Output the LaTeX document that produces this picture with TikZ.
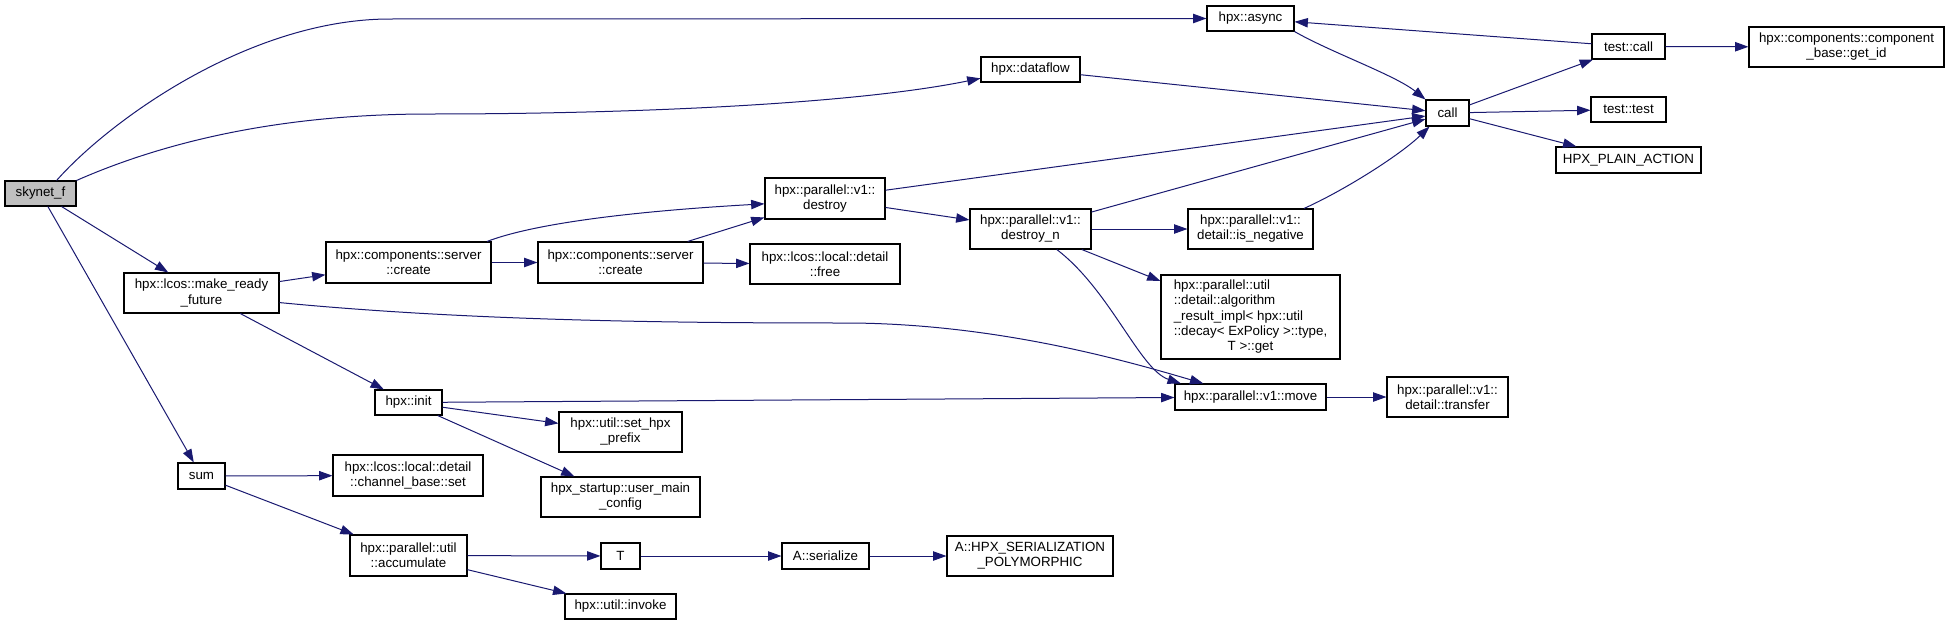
\documentclass[tikz,border=0pt]{standalone}
\usepackage{fontspec}
\setmainfont{Liberation Sans}
\usepackage{xcolor}
\usepackage{tikz}
\usetikzlibrary{arrows.meta}
\definecolor{linec}{HTML}{191970}
\definecolor{rootc}{HTML}{BFBFBF}
\tikzset{
  ln/.style={-{Triangle[length=10pt,width=7pt]},line width=0.75pt,linec},
  fn/.style 2 args={draw=black,line width=0.8pt,fill=white,align=center,inner sep=0pt,
    minimum width=#1*0.75pt,minimum height=#2*0.75pt,font=\fontsize{10}{11.3}\selectfont}
}

\begin{document}
\begin{tikzpicture}[x=0.75pt,y=-0.75pt]
\useasboundingbox (0,0) rectangle (1949,625);
% column 1-2
\node[fn={71}{25},fill=rootc] (skynet) at (40.5,193.5) {skynet\_f};
\node[fn={155}{40}] (mrf) at (201.5,293) {hpx::lcos::make\_ready\\\_future};
\node[fn={47}{26}] (sum) at (201.5,476) {sum};
% column 3
\node[fn={165}{41}] (createa) at (408.5,262.5) {hpx::components::server\\::create};
\node[fn={67}{25}] (init) at (408.5,402.5) {hpx::init};
\node[fn={150}{41}] (chanset) at (408,475.5) {hpx::lcos::local::detail\\::channel\_base::set};
\node[fn={117}{41}] (accum) at (408.5,555.5) {hpx::parallel::util\\::accumulate};
% column 4
\node[fn={165}{41}] (createb) at (620.5,262.5) {hpx::components::server\\::create};
\node[fn={123}{40}] (prefix) at (620.5,432) {hpx::util::set\_hpx\\\_prefix};
\node[fn={159}{40}] (usermain) at (620.5,497) {hpx\_startup::user\_main\\\_config};
\node[fn={39}{26}] (tt) at (620.5,556) {T};
\node[fn={111}{25}] (invoke) at (620.5,606.5) {hpx::util::invoke};
% column 5
\node[fn={120}{41}] (destroy) at (825,198.5) {hpx::parallel::v1::\\destroy};
\node[fn={150}{40}] (free) at (825,264) {hpx::lcos::local::detail\\::free};
\node[fn={87}{26}] (serialize) at (825.5,556) {A::serialize};
% column 6
\node[fn={99}{25}] (dataflow) at (1030.5,69.5) {hpx::dataflow};
\node[fn={121}{40}] (destroyn) at (1030.5,229) {hpx::parallel::v1::\\destroy\_n};
\node[fn={166}{40}] (poly) at (1030,556) {A::HPX\_SERIALIZATION\\\_POLYMORPHIC};
% column 7
\node[fn={87}{25}] (async) at (1250.5,18.5) {hpx::async};
\node[fn={125}{40}] (isneg) at (1250.5,229) {hpx::parallel::v1::\\detail::is\_negative};
\node[fn={179}{84}] (algo) at (1250.5,317) {\begin{tabular}{@{}l@{}}hpx::parallel::util\\::detail::algorithm\\\_result\_impl< hpx::util\\::decay< ExPolicy >::type,\\\multicolumn{1}{@{}c@{}}{T >::get}\end{tabular}};
\node[fn={151}{26}] (move) at (1250.5,397) {hpx::parallel::v1::move};
% column 8-10
\node[fn={43}{26}] (call) at (1447.5,113) {call};
\node[fn={121}{40}] (transfer) at (1447.5,397) {hpx::parallel::v1::\\detail::transfer};
\node[fn={73}{25}] (testcall) at (1628.5,46.5) {test::call};
\node[fn={75}{25}] (testtest) at (1628.5,109.5) {test::test};
\node[fn={145}{26}] (plain) at (1628.5,160) {HPX\_PLAIN\_ACTION};
\node[fn={195}{40}] (getid) at (1846.5,47) {hpx::components::component\\\_base::get\_id};

% calls
\draw[ln] (skynet.39) .. controls (110,120) and (250,19) .. (390,19) -- (async.west);
\draw[ln] (skynet.north east) .. controls (180,135) and (300,114) .. (430,114)
  .. controls (620,114) and (850,105) .. (dataflow.190);
\draw[ln] (skynet) -- (mrf);
\draw[ln] (skynet) -- (sum);
\draw[ln] (mrf) -- (createa);
\draw[ln] (mrf) -- (init);
\draw[ln] (mrf.-7) .. controls (480,322) and (700,323) .. (850,323)
  .. controls (1000,324) and (1130,362) .. (move.164);
\draw[ln] (createa) -- (createb);
\draw[ln] (createa.15) .. controls (530,225) and (620,212) .. (destroy.185);
\draw[ln] (createb) -- (destroy);
\draw[ln] (createb) -- (free);
\draw[ln] (destroy) -- (call);
\draw[ln] (destroy) -- (destroyn);
\draw[ln] (destroyn) -- (call);
\draw[ln] (destroyn) -- (isneg);
\draw[ln] (destroyn) -- (algo);
\draw[ln] (destroyn.-38) .. controls (1110,290) and (1140,370) .. (move.169);
\draw[ln] (isneg.21) .. controls (1345,190) and (1400,155) .. (call.217);
\draw[ln] (dataflow) -- (call);
\draw[ln] (async.south east) .. controls (1330,52) and (1395,75) .. (call.north west);
\draw[ln] (call) -- (testcall);
\draw[ln] (call) -- (testtest);
\draw[ln] (call) -- (plain);
\draw[ln] (testcall) -- (async);
\draw[ln] (testcall) -- (getid);
\draw[ln] (init) -- (move);
\draw[ln] (init) -- (prefix);
\draw[ln] (init) -- (usermain);
\draw[ln] (move) -- (transfer);
\draw[ln] (sum) -- (chanset);
\draw[ln] (sum) -- (accum);
\draw[ln] (accum) -- (tt);
\draw[ln] (accum) -- (invoke);
\draw[ln] (tt) -- (serialize);
\draw[ln] (serialize) -- (poly);
\end{tikzpicture}
\end{document}
